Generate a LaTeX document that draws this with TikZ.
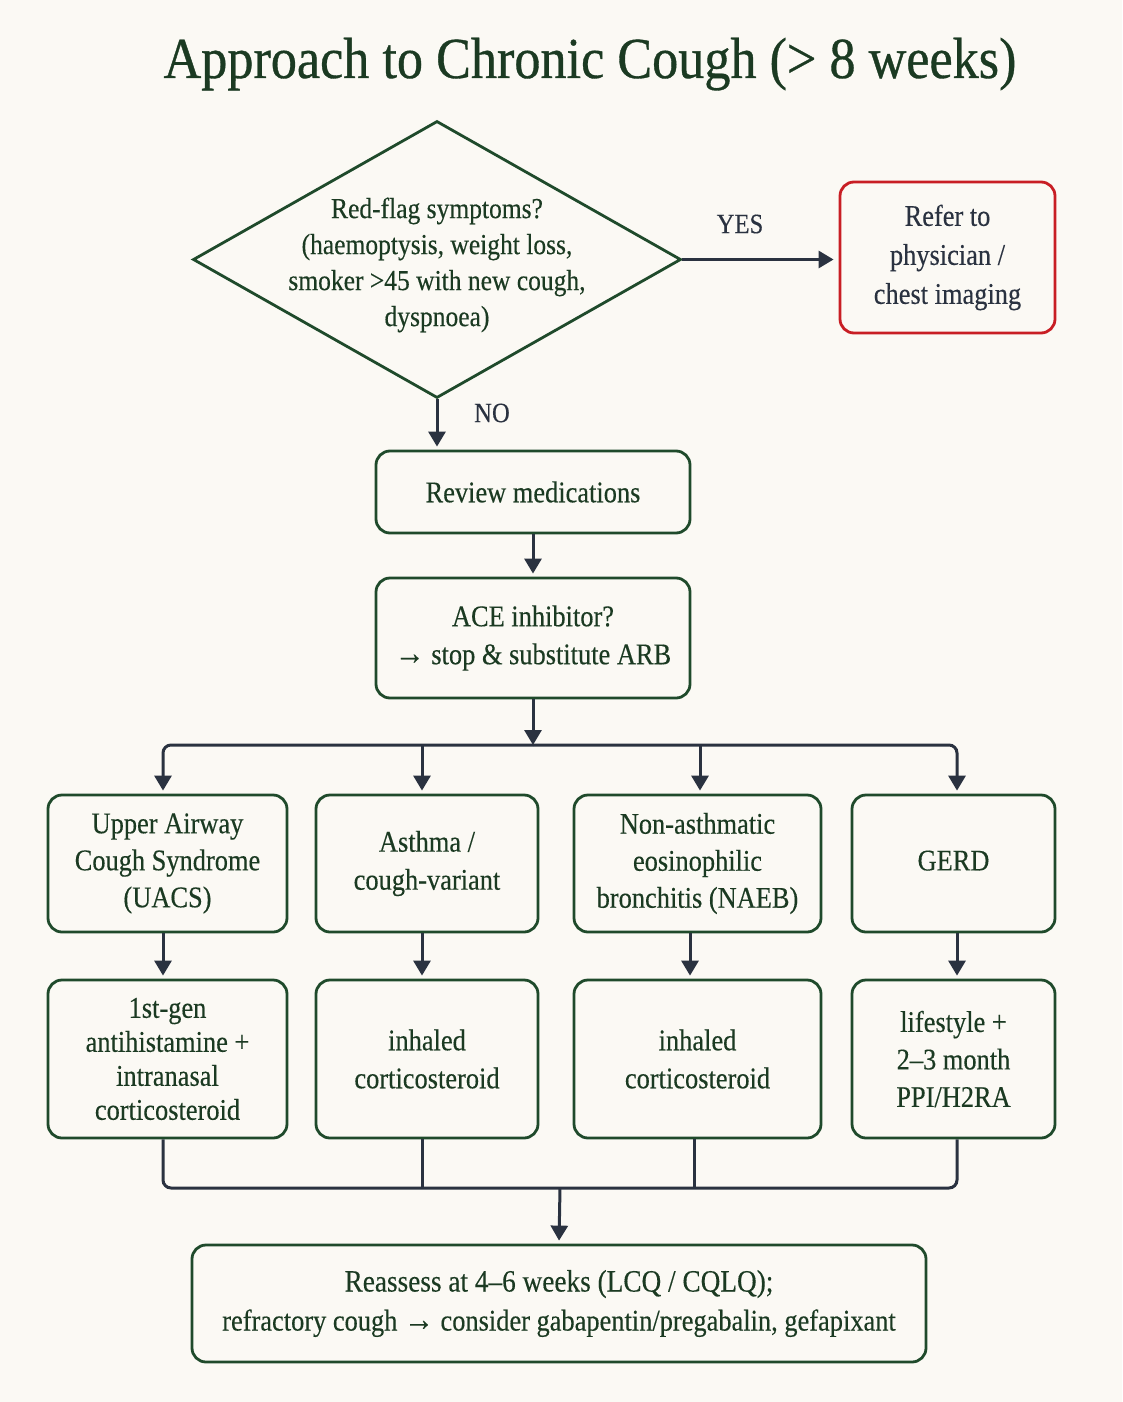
\documentclass[tikz,border=0pt]{standalone}
\usepackage{fontspec}
\setmainfont{Liberation Serif}[FakeStretch=0.88,FakeBold=0.3]
\newfontfamily\titlefont{Liberation Serif}[FakeStretch=0.9,FakeBold=0.6]
\usetikzlibrary{arrows.meta,shapes.geometric}
\definecolor{bg}{HTML}{FBF9F4}
\definecolor{grn}{HTML}{1F4A2B}
\definecolor{txtg}{HTML}{1B3A22}
\definecolor{slate}{HTML}{2A3240}
\definecolor{redb}{HTML}{C81E24}
\begin{document}
\begin{tikzpicture}[x=1pt,y=-1pt,
  box/.style={draw=grn, line width=2.8pt, rounded corners=14pt, fill=bg, text=txtg,
    align=center, inner sep=0pt, font=\fontsize{30}{37}\selectfont},
  arr/.style={draw=slate, line width=3pt, -{Triangle[width=17pt,length=15pt]}, shorten >=3pt},
  ln/.style={draw=slate, line width=3pt},
  lbl/.style={text=slate, font=\fontsize{28}{34}\selectfont}]
\fill[bg] (0,0) rectangle (1122,1402);
\useasboundingbox (0,0) rectangle (1122,1402);

\node[text=txtg, font=\titlefont\fontsize{58}{60}\selectfont, anchor=base] (title) at (590,78)
  {Approach to Chronic Cough (> 8 weeks)};

% decision
\node[diamond, draw=grn, line width=2.8pt, minimum width=488pt, minimum height=277pt, inner sep=0pt] (q) at (437,259.5) {};
\node[text=txtg, align=center, font=\fontsize{29}{36}\selectfont] (qt) at (437,265)
  {Red-flag symptoms?\\(haemoptysis, weight loss,\\smoker >45 with new cough,\\dyspnoea)};

\node[box, draw=redb, text=slate, minimum width=215pt, minimum height=151pt,
  font=\fontsize{30}{39}\selectfont] (ref) at (947.5,257.5) {\raisebox{-4pt}{\parbox{200pt}{\centering Refer to\\physician /\\chest imaging}}};
\draw[arr, shorten >=5pt] (q.east) -- (q.east -| ref.west);
\node[lbl] (yes) at (740,224) {YES};

\node[box, minimum width=314pt, minimum height=82pt] (rev) at (533,492) {Review medications};
\draw[arr] (q.south) -- (q.south |- rev.north);
\node[lbl] (no) at (492,413) {NO};

\node[box, minimum width=314pt, minimum height=120pt, font=\fontsize{30}{38}\selectfont] (ace) at (533,638)
  {ACE inhibitor?\\{\fontsize{34}{38}\selectfont→} stop \& substitute ARB};
\draw[arr] (rev.south) -- (ace.north);

% columns
\coordinate (xa) at (163,0);
\coordinate (xb) at (422,0);
\coordinate (xc) at (700,0);
\coordinate (xcb) at (690,0);
\coordinate (xcc) at (694,0);
\coordinate (xd) at (957,0);
\coordinate (bus) at (533,745);
\coordinate (bus2) at (560,1188);

\node[box, minimum width=239pt, minimum height=137pt] (uacs) at (167.5,863.5)
  {Upper Airway\\Cough Syndrome\\(UACS)};
\node[box, minimum width=222pt, minimum height=137pt, font=\fontsize{30}{38}\selectfont] (asth) at (427,863.5)
  {Asthma /\\cough-variant};
\node[box, minimum width=247pt, minimum height=137pt] (naeb) at (697.5,863.5)
  {Non-asthmatic\\eosinophilic\\bronchitis (NAEB)};
\node[box, minimum width=203pt, minimum height=137pt] (gerd) at (953.5,863.5)
  {\raisebox{6pt}{GERD}};

\node[box, minimum width=239pt, minimum height=158pt, font=\fontsize{30}{34}\selectfont] (t1) at (167.5,1059)
  {1st-gen\\antihistamine +\\intranasal\\corticosteroid};
\node[box, minimum width=222pt, minimum height=158pt, font=\fontsize{30}{38}\selectfont] (t2) at (427,1059)
  {inhaled\\corticosteroid};
\node[box, minimum width=247pt, minimum height=158pt, font=\fontsize{30}{38}\selectfont] (t3) at (697.5,1059)
  {inhaled\\corticosteroid};
\node[box, minimum width=203pt, minimum height=158pt, font=\fontsize{30}{37.5}\selectfont] (t4) at (953.5,1059)
  {lifestyle +\\2–3 month\\PPI/H2RA};

\node[box, minimum width=734pt, minimum height=117pt, font=\fontsize{30}{39}\selectfont] (fin) at (559,1303.5)
  {{\fontsize{31}{39}\selectfont Reassess at 4–6 weeks (LCQ / CQLQ);}\\refractory cough {\fontsize{34}{39}\selectfont→} consider gabapentin/pregabalin, gefapixant};

% top bus
\draw[arr, shorten >=0pt] (ace.south) -- (bus);
\draw[arr, rounded corners=8pt] (bus) -- (bus -| xa) -- (uacs.north -| xa);
\draw[arr, rounded corners=8pt] (bus) -- (bus -| xd) -- (gerd.north -| xd);
\draw[arr] (bus -| xb) -- (asth.north -| xb);
\draw[arr] (bus -| xc) -- (naeb.north -| xc);

% row arrows
\draw[arr] (uacs.south -| xa) -- (t1.north -| xa);
\draw[arr] (asth.south -| xb) -- (t2.north -| xb);
\draw[arr] (naeb.south -| xcb) -- (t3.north -| xcb);
\draw[arr] (gerd.south -| xd) -- (t4.north -| xd);

% bottom bus
\draw[ln, rounded corners=8pt] (t1.south -| xa) -- (bus2 -| xa) -- (bus2 -| xd) -- (t4.south -| xd);
\draw[ln] (t2.south -| xb) -- (bus2 -| xb);
\draw[ln] (t3.south -| xcc) -- (bus2 -| xcc);
\draw[arr] (bus2) -- (fin.north);
\end{tikzpicture}
\end{document}
